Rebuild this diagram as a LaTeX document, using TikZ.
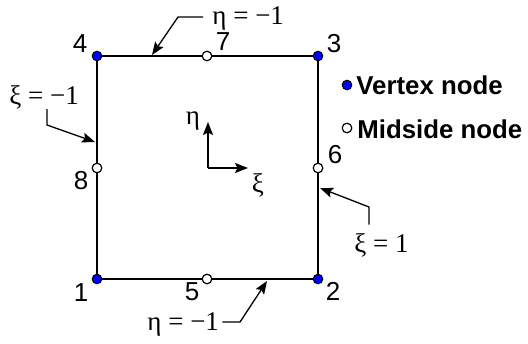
\documentclass[tikz,border=0pt]{standalone}
\usepackage{fontspec}
\setmainfont{Liberation Serif}
\setsansfont{Liberation Sans}
\usetikzlibrary{positioning,arrows.meta}
\tikzset{
  vertex/.style={circle, draw=black, fill=blue, inner sep=0pt, minimum size=4.8pt, line width=0.5pt},
  midside/.style={circle, draw=black, fill=white, inner sep=0pt, minimum size=4.8pt, line width=0.6pt},
  num/.style={font=\sffamily\fontsize{13}{15}\selectfont, inner sep=0pt},
  greek/.style={font=\fontsize{13.5}{15}\selectfont, inner sep=0pt},
  keytext/.style={font=\sffamily\bfseries\fontsize{12.9}{15}\selectfont, inner sep=0pt, anchor=west},
  side/.style={line width=0.95pt},
  leader/.style={line width=0.65pt, -{Stealth[length=6.5pt,width=5pt,inset=1.2pt]}},
  axisarrow/.style={line width=0.9pt, -{Stealth[length=6.5pt,width=5pt,inset=1.2pt]}}
}

\begin{document}
\begin{tikzpicture}[x=0.5pt, y=-0.5pt]
  \useasboundingbox (0,0) rectangle (528,343);

  % element outline
  \node[vertex] (v1) at (97,279) {};
  \node[vertex] (v2) at (318,279) {};
  \node[vertex] (v3) at (318,56) {};
  \node[vertex] (v4) at (97,56) {};
  \node[midside] (m5) at (207,279) {};
  \node[midside] (m6) at (318,168) {};
  \node[midside] (m7) at (207,56) {};
  \node[midside] (m8) at (97,168) {};
  \draw[side] (v1) -- (m5) -- (v2) -- (m6) -- (v3) -- (m7) -- (v4) -- (m8) -- (v1);

  \node[num] (n1) at (81,293) {1};
  \node[num] (n2) at (333,291) {2};
  \node[num] (n3) at (334,44) {3};
  \node[num] (n4) at (80,44) {4};
  \node[num] (n5) at (192,292) {5};
  \node[num] (n6) at (335,155) {6};
  \node[num] (n7) at (223,42) {7};
  \node[num] (n8) at (81,181) {8};

  % local axes
  \coordinate (o) at (208,168);
  \coordinate (eta end) at (208,122);
  \coordinate (xi end) at (248,168);
  \draw[axisarrow] (o) -- (eta end);
  \draw[axisarrow] (o) -- (xi end);
  \node[greek] (eta) at (193,121) {η};
  \node[greek] (xi) at (258,185) {ξ};

  % edge labels
  \node[greek, anchor=base west] (top lbl) at (212,24) {η = −1};
  \coordinate (top knee) at (178,17);
  \coordinate (top tip) at (152,55);
  \draw[leader] ([xshift=-4.5pt]top lbl.west |- top knee) -- (top knee) -- (top tip);

  \node[greek, anchor=base west] (left lbl) at (9,104) {ξ = −1};
  \coordinate (left knee) at (47,125);
  \coordinate (left tip) at (95,142);
  \draw[leader] (left knee |- left lbl.south) -- (left knee) -- (left tip);

  \node[greek, anchor=base west] (right lbl) at (354,252) {ξ = 1};
  \coordinate (right knee) at (369,207);
  \coordinate (right tip) at (320,188);
  \draw[leader] ([yshift=4pt]right lbl.north -| right knee) -- (right knee) -- (right tip);

  \node[greek, anchor=base west] (bot lbl) at (147,330) {η = −1};
  \coordinate (bot knee) at (240,322);
  \coordinate (bot tip) at (267,281);
  \draw[leader] ([xshift=1.5pt]bot lbl.east |- bot knee) -- (bot knee) -- (bot tip);

  % key
  \node[vertex] (key v) at (347,85) {};
  \node[keytext] (key v lbl) at (356,85) {Vertex node};
  \node[midside] (key m) at (347,128) {};
  \node[keytext] (key m lbl) at (357,129) {Midside node};
\end{tikzpicture}
\end{document}
